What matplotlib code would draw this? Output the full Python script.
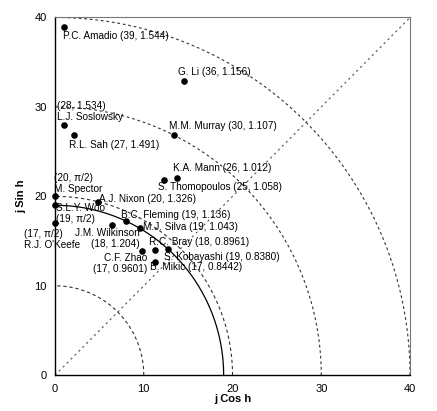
import numpy as np
import matplotlib
matplotlib.use("Agg")
import matplotlib.pyplot as plt

plt.rcParams['font.family'] = ['Liberation Sans', 'DejaVu Sans']

# Data: (magnitude r, phase angle theta in rad)
names = ["P.C. Amadio", "G. Li", "L.J. Soslowsky", "R.L. Sah", "M.M. Murray",
         "K.A. Mann", "S. Thomopoulos", "M. Spector", "A.J. Nixon", "S.L.Y. Woo",
         "R.J. O'Keefe", "B.C. Fleming", "M.J. Silva", "J.M. Wilkinson",
         "R.C. Bray", "C.F. Zhao", "S. Kobayashi", "B. Mikic"]
r_vals = [39, 36, 28, 27, 30, 26, 25, 20, 20, 19, 17, 19, 19, 18, 18, 17, 19, 17]
theta_vals = [1.544, 1.156, 1.534, 1.491, 1.107, 1.012, 1.058, np.pi / 2, 1.326,
              np.pi / 2, np.pi / 2, 1.136, 1.043, 1.204, 0.8961, 0.9601, 0.8380, 0.8442]
labels = ["P.C. Amadio (39, 1.544)", "G. Li (36, 1.156)", "(28, 1.534)\nL.J. Soslowsky",
          "R.L. Sah (27, 1.491)", "M.M. Murray (30, 1.107)", "K.A. Mann (26, 1.012)",
          "S. Thomopoulos (25, 1.058)", "(20, \u03c0/2)\nM. Spector", "A.J. Nixon (20, 1.326)",
          "S.L.Y. Woo\n(19, \u03c0/2)", "(17, \u03c0/2)\nR.J. O'Keefe", "B.C. Fleming (19, 1.136)",
          "M.J. Silva (19, 1.043)", "J.M. Wilkinson\n(18, 1.204)", "R.C. Bray (18, 0.8961)",
          "C.F. Zhao\n(17, 0.9601)", "S. Kobayashi (19, 0.8380)", "B. Mikic (17, 0.8442)"]
ref_radii = [10, 20, 30, 40]
mean_radius = 19
ticks = [0, 10, 20, 30, 40]

# label offsets in points (dx, dy of the label centre) and horizontal alignment
offsets = [(-1, -7, 'left'), (-4, 6, 'left'), (-5, 10, 'left'),
           (-4, -7.5, 'left'), (-4, 7, 'left'), (-3, 7, 'left'),
           (-4, -5, 'left'), (-1, 9.5, 'left'), (1, 2, 'left'),
           (1, -6, 'left'), (-22, -11.5, 'left'), (-3.5, 4.5, 'left'),
           (2, 1, 'left'), (19.5, -9.5, 'right'), (-4, 5.5, 'left'),
           (4, -9.5, 'right'), (-3, -5.5, 'left'), (-4, -4, 'left')]
line_h = 8.0  # points between label lines

fig = plt.figure(figsize=(4.37, 4.11), dpi=100)
ax = fig.add_axes([0.1259, 0.087, 0.8124, 0.8705])

t = np.linspace(0, np.pi / 2, 300)
for rr in ref_radii:
    ax.plot(rr * np.cos(t), rr * np.sin(t), color='#333333', lw=0.8,
            ls=(0, (3, 2.5)) if rr <= 20 else (0, (2.5, 2.5)), zorder=1)
ax.plot(mean_radius * np.cos(t), mean_radius * np.sin(t), color='black', lw=0.9, zorder=2)
ax.plot([0, 40], [0, 40], color='#555555', lw=0.8, ls=(0, (2, 3)), zorder=1)

x = np.array(r_vals) * np.cos(theta_vals)
y = np.array(r_vals) * np.sin(theta_vals)
ax.scatter(x, y, s=14, color='black', zorder=3, clip_on=False)

for xi, yi, lab, (dx, dy, ha) in zip(x, y, labels, offsets):
    lines = lab.split('\n')
    n = len(lines)
    for k, line in enumerate(lines):
        ly = dy + ((n - 1) / 2 - k) * line_h
        ax.annotate(line, (xi, yi), xytext=(dx, ly), textcoords='offset points',
                    ha=ha, va='center', fontsize=7.2, zorder=4)

ax.set_xlim(0, 40)
ax.set_ylim(0, 40)
ax.set_xticks(ticks)
ax.set_yticks(ticks)
ax.tick_params(length=0, labelsize=8, pad=6)
ax.set_xlabel('j Cos h', fontsize=8, fontweight='bold', labelpad=0)
ax.set_ylabel('j Sin h', fontsize=8, fontweight='bold', labelpad=6)
for s in ['top', 'right']:
    ax.spines[s].set_color('#777777')
    ax.spines[s].set_linewidth(0.8)
for s in ['left', 'bottom']:
    ax.spines[s].set_linewidth(1.0)

fig.savefig('out.png', dpi=100)
